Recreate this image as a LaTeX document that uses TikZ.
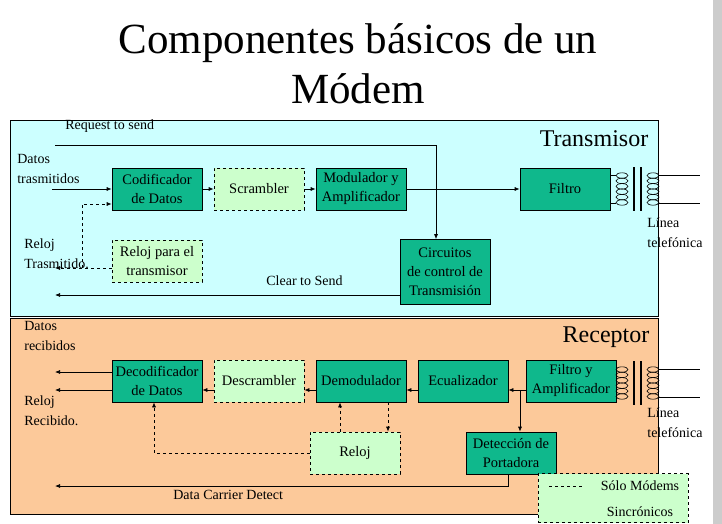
\documentclass[tikz,border=0pt]{standalone}
\usepackage{fontspec}
\setmainfont{Liberation Serif}
\newfontfamily\ser{Liberation Serif}
\usetikzlibrary{arrows.meta}
\definecolor{tx}{HTML}{CCFFFF}
\definecolor{rx}{HTML}{FCC99A}
\definecolor{dg}{HTML}{0FB88C}
\definecolor{lg}{HTML}{CCFFCC}
\begin{document}
\begin{tikzpicture}[x=1pt,y=-1pt,
 every node/.style={font=\ser},
 solidbox/.style={draw,fill=dg,minimum width=90pt,minimum height=42pt,inner sep=1pt,align=center,font=\ser\fontsize{14.5}{19}\selectfont},
 dashbox/.style={solidbox,fill=lg,dashed},
 lbl/.style={font=\ser\fontsize{14}{20}\selectfont,align=left,anchor=north west,inner sep=0},
 ar/.style={-{Latex[length=5pt,width=4pt]}},
 da/.style={ar,dashed},
 every path/.style={line width=0.7pt}]
\useasboundingbox (0,0) rectangle (722,524);
\fill[white] (0,0) rectangle (722,524);
\fill[gray!40] (713,0) rectangle (722,524);
\node[font=\ser\fontsize{43}{50}\selectfont,align=center] (title) at (358,64) {Componentes básicos de un\\Módem};
\draw[fill=tx] (10,120) rectangle (658,316);
\draw[fill=rx] (10,318) rectangle (658,514);
\node[font=\ser\fontsize{24}{26}\selectfont] (tl) at (594,139) {Transmisor};
\node[font=\ser\fontsize{24}{26}\selectfont] (rl) at (606,337) {Receptor};
% transmitter
\node[solidbox] (cod) at (157,189) {Codificador\\de Datos};
\node[dashbox] (scr) at (259,189) {Scrambler};
\node[solidbox] (mod) at (361,189) {Modulador y\\Amplificador};
\node[solidbox] (fil) at (565,189) {Filtro};
\node[dashbox] (rtx) at (157,261) {Reloj para el\\transmisor};
\node[solidbox,minimum height=65pt] (cir) at (445,272) {Circuitos\\de control de\\Transmisión};
\node[lbl] (rts) at (65,119) {Request to send};
\node[lbl] (dt) at (17,154) {Datos\\trasmitidos};
\node[lbl] (rt) at (24,238) {Reloj\\Trasmitido.};
\node[lbl] (cts) at (266,275) {Clear to Send};
\coordinate (rtsS) at (55,145);
\coordinate (dtS) at (52,189);
\coordinate (rtE) at (55,268);
\coordinate (ctsE) at (55,295);
\draw[ar] (rtsS) -- (436,145) -- (cir.north-|436,0);
\draw[ar] (dtS) -- (cod);
\draw[ar] (cod) -- (scr);
\draw[ar] (scr) -- (mod);
\draw[ar] (mod) -- (fil);
\draw[da] (rtx.west|-0,268) -- (rtE);
\draw[da] (82,268) -- (82,204) -- (cod.west|-0,204);
\draw[ar] (cir.west|-0,295) -- (ctsE);
% receiver
\node[solidbox] (dec) at (157,381) {Decodificador\\de Datos};
\node[dashbox] (dsc) at (259,381) {Descrambler};
\node[solidbox] (dem) at (361,381) {Demodulador};
\node[solidbox] (ecu) at (463,381) {Ecualizador};
\node[solidbox] (fa) at (571,381) {Filtro y\\Amplificador};
\node[dashbox] (rrx) at (355,453) {Reloj};
\node[solidbox] (det) at (511,453) {Detección de\\Portadora};
\node[lbl] (dr) at (24,321) {Datos\\recibidos};
\node[lbl] (rr) at (24,395) {Reloj\\Recibido.};
\node[lbl] (dcd) at (173,490) {Data Carrier Detect};
\coordinate (o1) at (55,372);
\coordinate (o2) at (55,390);
\coordinate (dcdE) at (55,486);
\draw[ar] (fa.west|-0,390) -- (ecu.east|-0,390);
\draw[ar] (520,390) -- (det.north-|520,0);
\draw[ar] (ecu.west|-0,390) -- (dem.east|-0,390);
\draw[ar] (dem.west|-0,390) -- (dsc.east|-0,390);
\draw[ar] (dsc.west|-0,390) -- (dec.east|-0,390);
\draw[ar] (dec.west|-0,372) -- (o1);
\draw[ar] (dec.west|-0,390) -- (o2);
\draw[da] (dem.south-|388,0) -- (rrx.north-|388,0);
\draw[da] (rrx.north-|340,0) -- (dem.south-|340,0);
\draw[da] (rrx.west) -- (154,453) -- (dec.south-|154,0);
\draw[ar] (det.south-|508,0) -- (508,486) -- (dcdE);
% legend
\node[draw,dashed,fill=lg,minimum width=150pt,minimum height=49pt] (leg) at (613,498) {};
\draw[dashed] (549,486) -- (584,486);
\node[font=\ser\fontsize{14}{16}\selectfont] (l1) at (640,486) {Sólo Módems};
\node[font=\ser\fontsize{14}{16}\selectfont] (l2) at (640,512) {Sincrónicos};
% transformers
\foreach \y/\n in {189/a,383/b}{
 \foreach \xc in {622,653}{
  \foreach \k in {0,...,5} \draw[line width=0.6pt] (\xc,\y-13.5+\k*5.4) ellipse (6pt and 2.7pt);
 }
 \draw[line width=1.2pt] (634,\y-22) -- (634,\y+22);
 \draw[line width=1.2pt] (641,\y-22) -- (641,\y+22);
 \draw (659,\y-14) -- (700,\y-14);
 \draw (659,\y+14) -- (700,\y+14);
}
\draw (610,175) -- (616,175); \draw (610,203) -- (616,203);
\node[lbl] (lt1) at (647,217) {Línea\\telefónica};
\node[lbl] (lt2) at (647,407) {Línea\\telefónica};
\end{tikzpicture}
\end{document}
